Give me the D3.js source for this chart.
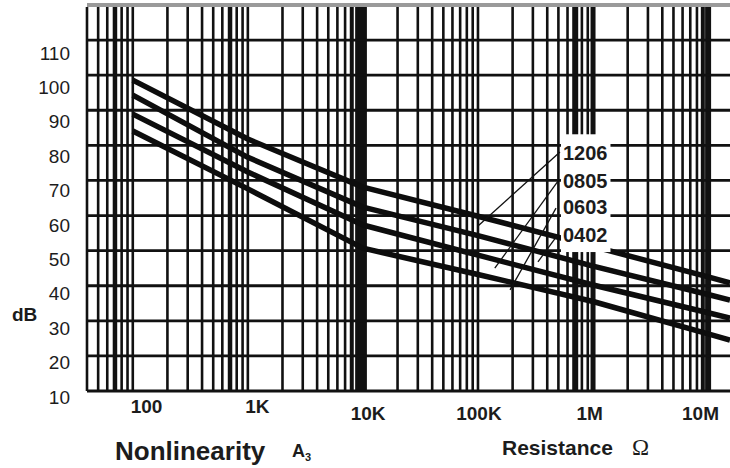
<!DOCTYPE html>
<html>
<head>
<meta charset="utf-8">
<script src="https://cdn.jsdelivr.net/npm/d3@7"></script>
<style>
  body { margin: 0; background: #fff; }
  text { font-family: "Liberation Sans", Arial, sans-serif; fill: #1c1c1c; }
</style>
</head>
<body>
<div id="chart"></div>
<script>
// chart size
var svgWidth = 730;
var svgHeight = 468;

// resistance (ohm) where the curves were read, last one is the right edge
var resistance = [100, 1e3, 1e4, 1e5, 1e6, 1e7, 1.55e7];

// nonlinearity A3 in dB for each chip size
var nl1206 = [98.6, 81.8, 68.1, 59.8, 51.2, 42.5, 40.8];
var nl0805 = [94.3, 76.6, 62.4, 54.3, 45.6, 37.5, 35.9];
var nl0603 = [88.9, 72.4, 57.3, 48.7, 40.2, 32.3, 30.8];
var nl0402 = [84.1, 67.6, 50.7, 43.2, 35.5, 26.3, 24.5];
var seriesNames = ["1206", "0805", "0603", "0402"];

// ticks
var yTicks = [10, 20, 30, 40, 50, 60, 70, 80, 90, 100, 110];
var xTicks = [100, 1e3, 1e4, 1e5, 1e6, 1e7];
var xTickLabels = ["100", "1K", "10K", "100K", "1M", "10M"];

// size labels and their leader lines, [ohm, dB]
var labelAt = [[548e3, 77.8], [548e3, 69.8], [548e3, 62.4], [548e3, 54.5]];
var leaderFrom = [[516e3, 78.1], [496e3, 69.8], [477e3, 62.1], [486e3, 54.2]];
var leaderTo = [[100e3, 57.0], [140e3, 45.0], [190e3, 38.8], [332e3, 46.8]];

var svg = d3.select("#chart")
  .append("svg")
  .attr("width", svgWidth)
  .attr("height", svgHeight);

// log paper scales
var xLogScale = d3.scaleLog().domain([40, 1.55e7]).range([87, 730]);
var yLinearScale = d3.scaleLinear().domain([10, 120]).range([391, 5]);

// the printed labels sit a bit off the grid on the scan
var xLabelScale = d3.scaleLog().domain([100, 1e7]).range([146, 700]);
var yLabelScale = d3.scaleLinear().domain([10, 110]).range([397, 53]);

// vertical grid: every 1..9 multiple of each decade
var gridX = [];
for (var k = 1; k <= 7; k++) {
  for (var m = 1; m <= 9; m++) {
    var v = m * Math.pow(10, k);
    if (v >= 40 && v <= 1.55e7) gridX.push(v);
  }
}
var heavyLines = {70: 4.5, 700: 4.5, 8000: 4, 9000: 5, 10000: 8, 700000: 6, 1000000: 5, 9000000: 4, 10000000: 6};

var grid = svg.append("g").attr("class", "grid");

grid.selectAll("line.vx")
  .data(gridX)
  .enter()
  .append("line")
  .attr("class", "vx")
  .attr("x1", d => xLogScale(d))
  .attr("x2", d => xLogScale(d))
  .attr("y1", yLinearScale(120) + 2)
  .attr("y2", yLinearScale(10))
  .attr("stroke", "#111")
  .attr("stroke-width", d => heavyLines[d] || 2.6);

grid.selectAll("line.hy")
  .data(yTicks)
  .enter()
  .append("line")
  .attr("class", "hy")
  .attr("x1", xLogScale(40))
  .attr("x2", svgWidth)
  .attr("y1", d => yLinearScale(d))
  .attr("y2", d => yLinearScale(d))
  .attr("stroke", "#111")
  .attr("stroke-width", 2.8);

// grey top edge of the paper
grid.append("line")
  .attr("x1", xLogScale(40))
  .attr("x2", svgWidth)
  .attr("y1", yLinearScale(120))
  .attr("y2", yLinearScale(120))
  .attr("stroke", "#9a9a9a")
  .attr("stroke-width", 4);

// curves
var allSeries = [nl1206, nl0805, nl0603, nl0402];
var createLine = d3.line()
  .x((d, i) => xLogScale(resistance[i]))
  .y(d => yLinearScale(d));

svg.append("g")
  .selectAll("path")
  .data(allSeries)
  .enter()
  .append("path")
  .attr("d", d => createLine(d))
  .attr("fill", "none")
  .attr("stroke", "#0d0d0d")
  .attr("stroke-width", 5.5)
  .attr("stroke-linejoin", "round");

// size labels on a white patch
var labelGroup = svg.append("g");
var patch = labelGroup.append("rect").attr("fill", "#fff");

var sizeLabels = labelGroup.selectAll("text")
  .data(seriesNames)
  .enter()
  .append("text")
  .attr("x", (d, i) => xLogScale(labelAt[i][0]))
  .attr("y", (d, i) => yLinearScale(labelAt[i][1]))
  .attr("dy", "0.36em")
  .style("font-size", "20px")
  .style("font-weight", "bold")
  .text(d => d);

var box = labelGroup.node().getBBox();
patch.attr("x", box.x - 2)
  .attr("y", box.y - 8)
  .attr("width", box.width + 5)
  .attr("height", box.height + 14);

// leader lines
svg.append("g")
  .selectAll("line")
  .data(leaderFrom)
  .enter()
  .append("line")
  .attr("x1", d => xLogScale(d[0]))
  .attr("y1", d => yLinearScale(d[1]))
  .attr("x2", (d, i) => xLogScale(leaderTo[i][0]))
  .attr("y2", (d, i) => yLinearScale(leaderTo[i][1]))
  .attr("stroke", "#111")
  .attr("stroke-width", 1.3);

// y axis labels
var leftAxis = d3.axisLeft(yLabelScale).tickValues(yTicks).tickSize(0).tickPadding(0);
var yAxis = svg.append("g")
  .attr("transform", "translate(70,0)")
  .call(leftAxis);
yAxis.select(".domain").remove();
yAxis.selectAll("text")
  .attr("fill", "#2a2a2a")
  .style("font-size", "19px")
  .style("font-family", "'Liberation Sans', Arial, sans-serif");

// x axis labels
var bottomAxis = d3.axisBottom(xLabelScale)
  .tickValues(xTicks)
  .tickFormat((d, i) => xTickLabels[i])
  .tickSize(0)
  .tickPadding(0);
var xAxis = svg.append("g")
  .attr("transform", "translate(0,399)")
  .call(bottomAxis);
xAxis.select(".domain").remove();
xAxis.selectAll("text")
  .attr("fill", "#1c1c1c")
  .attr("y", (d, i) => i < 2 ? 0 : 8)
  .style("font-size", "19px")
  .style("font-weight", "bold")
  .style("font-family", "'Liberation Sans', Arial, sans-serif");

// axis titles
svg.append("text")
  .attr("x", 12)
  .attr("y", 321)
  .style("font-size", "19px")
  .style("font-weight", "bold")
  .text("dB");

svg.append("text")
  .attr("x", 115)
  .attr("y", 460)
  .style("font-size", "26px")
  .style("font-weight", "bold")
  .text("Nonlinearity");

var aTitle = svg.append("text")
  .attr("x", 292)
  .attr("y", 457)
  .style("font-size", "18px")
  .style("font-weight", "bold");
aTitle.append("tspan").text("A");
aTitle.append("tspan")
  .attr("dy", 4)
  .style("font-size", "11px")
  .text("3");

svg.append("text")
  .attr("x", 502)
  .attr("y", 455)
  .style("font-size", "21px")
  .style("font-weight", "bold")
  .text("Resistance");

svg.append("text")
  .attr("x", 632)
  .attr("y", 455)
  .style("font-size", "23px")
  .style("font-family", "'Liberation Serif', 'Times New Roman', serif")
  .text("\u03A9");
</script>
</body>
</html>
